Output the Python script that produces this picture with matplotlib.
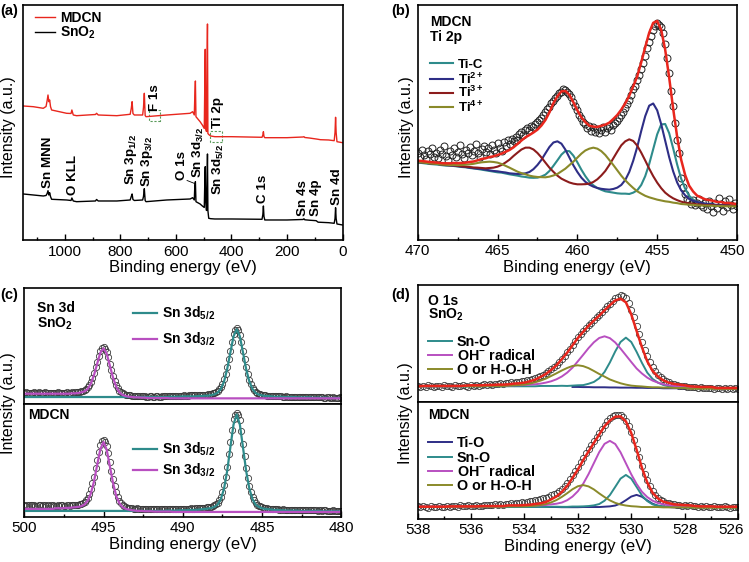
import numpy as np
import matplotlib
matplotlib.use('Agg')
import matplotlib.pyplot as plt
from matplotlib.ticker import MultipleLocator
from matplotlib.patches import Rectangle
from matplotlib.legend import Legend
from matplotlib.transforms import ScaledTranslation

plt.rcParams['font.family'] = ['Liberation Sans', 'DejaVu Sans']
plt.rcParams['mathtext.fontset'] = 'custom'
plt.rcParams['mathtext.rm'] = 'Liberation Sans'
plt.rcParams['mathtext.it'] = 'Liberation Sans:italic'
plt.rcParams['mathtext.bf'] = 'Liberation Sans:bold'
plt.rcParams['axes.linewidth'] = 1.2

RED = '#e8261d'
TEAL = '#2e8b8b'
NAVY = '#2e2e86'
DRED = '#8c1c1c'
OLIVE = '#8a8a2a'
MAG = '#b84fc0'

# ---------------- (a) survey spectra ----------------
e_survey = [1150, 1114, 1078, 1068, 1064, 1061, 1058, 1055, 1052, 1048,
            994, 978, 975, 970, 958, 890, 886, 880, 813, 765,
            761, 758, 755, 750, 720, 717, 714, 711, 708, 633,
            549, 540, 534, 532, 530, 528, 513, 505, 498, 496,
            494.5, 493, 490, 488, 486.5, 485, 482, 475, 460, 400,
            290, 287, 285, 283, 280, 200, 142, 139, 136, 120,
            95, 88, 80, 50, 30, 27, 25, 23, 20, 0]
i_sno2 = [46.5, 45.5, 44.5, 45, 47, 49.8, 45.5, 47.8, 44, 41.2,
          40.5, 40, 42.5, 39.5, 38.8, 39.5, 41, 39.5, 39.5, 40.5,
          44, 46.5, 41, 40, 40.5, 44, 51.8, 40, 38.8, 40.5,
          41.5, 42.8, 40.5, 55, 58.8, 38.8, 36.5, 34.5, 33, 60,
          73.8, 40, 30, 60, 86.5, 30, 22.2, 21.8, 21.5, 21.5,
          21.2, 26, 34.5, 24, 20.5, 20.5, 21, 21.7, 20.7, 20.3,
          19.8, 18.3, 18.2, 17.8, 17.2, 22, 32.8, 22, 16.5, 15.5]
i_mdcn = [134.5, 133.8, 132.2, 134, 140, 145.5, 138.8, 140.5, 134, 130.5,
          127.2, 127, 130.5, 125.5, 124.8, 126, 127.2, 125.5, 124.8, 126.2,
          132, 138.8, 127, 125.5, 125.5, 133, 147.2, 125, 123.8, 125.5,
          127.2, 128.8, 125.5, 145, 159.5, 123.8, 118.8, 115.5, 112, 160,
          191.2, 112, 109, 180, 216.5, 107, 106, 104.5, 103.8, 103.8,
          103.2, 105.5, 108.8, 104, 102.8, 102.8, 103.5, 103.8, 103, 102.5,
          101.5, 101.2, 100.8, 100.5, 99.8, 108, 123.2, 108, 98.8, 97.8]

# ---------------- (b) Ti 2p ----------------
e_ti = np.arange(450, 470.001, 0.25)
bg_ti = [100, 100, 100, 100, 100, 100, 100.5, 101, 101, 101.5,
         102, 102.5, 103, 104, 105, 106.5, 108, 109.5, 111, 112.5,
         114, 115.5, 117, 118.5, 120, 122, 124, 126, 128, 130,
         132, 134, 136, 138, 140.5, 143, 145, 147, 149.5, 152,
         154, 156, 158.5, 161, 163, 165, 167.5, 170, 172, 174.5,
         177, 179.5, 182, 185, 187.5, 190, 193, 195, 197.5, 200,
         202, 204, 206, 208, 210, 212, 213.5, 215, 217, 218,
         219.5, 221, 222, 223, 224.5, 226, 227, 228, 229.5, 231, 232]
ti_c = [2, 3, 3, 3, 4, 4, 5, 6, 7, 9,
        12, 19, 30, 50, 79, 120, 167, 211, 237, 234,
        203, 157, 111, 73, 45, 27, 18, 12, 11, 9,
        8, 8, 8, 8, 10, 13, 19, 28, 42, 59,
        79, 97, 108, 106, 93, 74, 55, 37, 24, 16,
        10, 7, 5, 4, 3, 3, 2, 2, 2, 2,
        1, 1, 1, 1, 1, 1, 1, 1, 1, 1,
        1, 1, 1, 0, 0, 0, 0, 0, 0, 0, 0]
ti_2 = [3, 3, 4, 4, 5, 5, 6, 7, 8, 10,
        12, 15, 20, 30, 44, 66, 98, 139, 187, 235,
        275, 294, 286, 253, 207, 157, 114, 78, 52, 35,
        25, 19, 15, 14, 13, 13, 15, 19, 25, 35,
        50, 68, 89, 110, 126, 131, 125, 109, 88, 66,
        48, 33, 22, 15, 11, 8, 6, 5, 5, 4,
        4, 3, 3, 3, 3, 2, 2, 2, 2, 2,
        2, 2, 2, 2, 2, 2, 2, 2, 2, 2, 2]
ti_3 = [2, 2, 3, 3, 3, 3, 4, 4, 4, 5,
        5, 6, 7, 8, 10, 13, 17, 23, 31, 43,
        58, 76, 97, 120, 142, 161, 173, 176, 168, 154,
        133, 111, 89, 69, 53, 39, 29, 22, 18, 15,
        13, 13, 14, 17, 21, 28, 37, 47, 60, 73,
        84, 92, 95, 92, 84, 72, 59, 46, 35, 25,
        18, 13, 10, 7, 6, 5, 4, 4, 3, 3,
        3, 3, 2, 2, 2, 2, 2, 2, 2, 2, 2]
ti_4 = [1, 1, 1, 1, 2, 2, 2, 2, 2, 2,
        2, 3, 3, 3, 3, 4, 4, 5, 5, 6,
        7, 9, 11, 14, 19, 24, 32, 41, 51, 63,
        77, 91, 104, 117, 126, 131, 132, 127, 119, 107,
        93, 79, 66, 53, 43, 33, 26, 20, 16, 14,
        12, 11, 11, 12, 13, 15, 18, 22, 25, 28,
        30, 30, 29, 26, 23, 19, 15, 12, 9, 7,
        5, 4, 3, 3, 2, 2, 2, 2, 2, 2, 2]
e_ti_pts = np.linspace(470, 450, 161)
ti_pts = [262, 248, 271, 255, 243, 266, 258, 276, 250, 262,
          245, 270, 259, 281, 252, 240, 268, 256, 275, 249,
          263, 284, 257, 246, 270, 261, 279, 254, 268, 287,
          260, 249, 272, 283, 264, 276, 258, 285, 271, 262,
          290, 276, 268, 295, 281, 299, 287, 303, 296, 310,
          301, 318, 323, 315, 329, 337, 331, 342, 338, 349,
          355, 361, 366, 374, 383, 392, 398, 410, 418, 426,
          432, 440, 445, 452, 449, 443, 437, 428, 415, 402,
          390, 376, 366, 355, 348, 336, 342, 328, 338, 325,
          333, 320, 330, 338, 324, 335, 341, 330, 345, 352,
          358, 366, 374, 385, 395, 407, 420, 436, 452, 462,
          480, 495, 512, 530, 552, 575, 595, 612, 630, 641,
          652, 645, 640, 622, 588, 545, 500, 448, 402, 350,
          300, 262, 185, 158, 138, 124, 116, 108, 120, 104,
          112, 124, 105, 98, 110, 92, 118, 102, 85, 112,
          96, 125, 107, 88, 116, 99, 122, 104, 93, 112, 101]

# ---------------- (c) Sn 3d ----------------
e_sn = np.linspace(500, 480, 101)
e_sn_pts = np.linspace(500, 480, 201)
sn_top_pts = [34, 35, 33, 34, 34, 33, 35, 34, 33, 35, 34, 33, 34, 35, 33, 34, 34, 32, 33, 34,
              34, 35, 33, 34, 34, 33, 33, 35, 34, 34, 35, 34, 35, 36, 36, 37, 38, 40, 42, 45,
              50, 57, 66, 78, 93, 110, 127, 145, 160, 168, 172, 166, 156, 140, 121, 103, 85, 70, 57, 47,
              40, 35, 32, 30, 28, 27, 26, 26, 25, 24, 24, 25, 24, 23, 23, 24, 23, 22, 22, 23,
              23, 22, 22, 23, 23, 22, 22, 23, 23, 24, 23, 23, 24, 24, 24, 23, 24, 25, 25, 24,
              25, 26, 25, 25, 26, 26, 26, 27, 26, 26, 27, 27, 27, 28, 28, 28, 29, 30, 31, 32,
              33, 35, 39, 44, 51, 61, 74, 91, 112, 135, 160, 186, 210, 222, 227, 221, 208, 186, 160, 134,
              110, 89, 72, 59, 49, 42, 36, 33, 31, 29, 28, 27, 26, 25, 25, 25, 24, 24, 24, 23,
              23, 24, 23, 22, 22, 23, 22, 22, 22, 21, 21, 22, 22, 21, 21, 22, 21, 21, 21, 20,
              20, 21, 21, 20, 20, 21, 20, 20, 20, 19, 19, 20, 20, 19, 19, 20, 19, 19, 19, 20, 19]
sn_top_52 = [21] * 46 + [22, 22, 22, 22, 23, 23, 23, 23, 23, 24,
                         24, 25, 25, 27, 29, 34, 45, 67, 105, 154,
                         203, 224, 203, 154, 104, 67, 45, 33, 28, 26,
                         24, 24, 23, 22, 22, 22, 21, 21, 21, 21] \
    + [20] * 5 + [19] * 5 + [18] * 5
sn_top_32 = [31] * 15 + [32, 32, 33, 35, 38, 45, 61, 87, 121, 154,
                         167, 151, 115, 79, 52, 35, 27, 24, 22, 21,
                         20, 20, 19, 19, 18, 18] + [18] * 5 + [17] * 55
sn_bot_pts = [36, 34, 35, 36, 36, 35, 35, 34, 34, 36, 35, 34, 35, 35, 34, 35, 34, 36, 35, 34,
              34, 35, 34, 36, 35, 34, 34, 35, 35, 34, 35, 36, 36, 36, 37, 38, 40, 42, 45, 50,
              57, 68, 82, 100, 120, 145, 170, 194, 214, 225, 230, 224, 212, 190, 164, 138, 114, 92, 74, 60,
              49, 42, 36, 33, 30, 28, 27, 27, 26, 25, 25, 26, 25, 24, 24, 25, 24, 23, 24, 24,
              24, 24, 23, 24, 24, 23, 23, 24, 23, 23, 23, 24, 24, 23, 23, 24, 24, 23, 24, 25,
              24, 25, 25, 24, 25, 26, 25, 25, 26, 26, 26, 27, 27, 27, 28, 29, 29, 30, 31, 33,
              35, 38, 43, 50, 60, 75, 94, 120, 150, 186, 222, 258, 290, 304, 310, 302, 288, 255, 218, 182,
              146, 117, 92, 74, 60, 50, 42, 37, 34, 32, 30, 28, 27, 26, 25, 25, 24, 23, 23, 24,
              23, 22, 22, 23, 22, 22, 22, 21, 21, 22, 21, 21, 21, 20, 21, 21, 20, 21, 21, 20,
              20, 21, 20, 20, 20, 19, 20, 20, 19, 20, 20, 19, 19, 19, 19, 20, 19, 19, 19, 18, 19]
sn_bot_52 = [18] * 45 + [19, 19, 19, 19, 20, 20, 20, 21, 21, 21,
                         22, 23, 24, 25, 27, 30, 37, 53, 84, 137,
                         207, 275, 305, 275, 206, 136, 84, 53, 36, 30,
                         26, 24, 23, 22, 21, 21, 20, 20, 19, 19,
                         19, 19] + [18] * 7 + [17] * 7
sn_bot_32 = [24] * 10 + [26, 26, 26, 27, 27, 28, 29, 30, 32, 37,
                         48, 70, 106, 155, 202, 223, 200, 151, 101, 63,
                         41, 29, 24, 22, 20, 19, 18, 18, 17, 17,
                         17] + [16] * 6 + [15] * 54

# ---------------- (d) O 1s ----------------
e_o = np.linspace(538, 526, 61)
e_o_pts = np.linspace(538, 526, 121)
o_top_bg = [47] * 27 + [46.5, 46, 46, 46, 45.5, 45.5, 45, 45, 45, 44.5,
                        44.5, 44, 44, 44, 43.5, 43.5, 43, 43, 43] \
    + [42] * 5 + [40] * 5 + [39] * 5
o_top_sno = [0] * 10 + [1] * 13 + [2, 2, 2, 2, 3, 3, 4, 5, 6, 10,
                                   16, 27, 46, 75, 108, 137, 150, 137, 108, 75,
                                   46, 27, 16, 10, 6, 5, 4, 3, 3, 2,
                                   2, 2, 2] + [1] * 5
o_top_oh = [1] * 9 + [2] * 6 + [3, 3, 3, 4, 4, 5, 6, 7, 9, 12,
                                16, 22, 31, 43, 58, 77, 97, 117, 135, 148,
                                153, 148, 135, 117, 97, 77, 58, 43, 31, 22,
                                16, 12, 9, 7, 6, 5, 4, 4, 3, 3,
                                3] + [2] * 5
o_top_hoh = [0] + [1] * 12 + [2] * 4 + [3, 4, 5, 6, 9, 13, 18, 24, 32, 40,
                                        49, 57, 63, 65, 63, 57, 49, 40, 32, 24,
                                        18, 13, 9, 6, 5, 4, 3, 2, 2, 2,
                                        2] + [1] * 13
o_top_pts = [49, 46, 50, 47, 51, 48, 45, 50, 49, 46,
             51, 48, 50, 47, 52, 49, 48, 51, 50, 47,
             52, 50, 53, 50, 52, 54, 51, 55, 53, 56,
             54, 57, 55, 58, 57, 60, 59, 62, 61, 64,
             63, 66, 68, 71, 72, 76, 79, 83, 88, 93,
             99, 106, 113, 121, 130, 139, 150, 160, 172, 183,
             195, 204, 213, 222, 231, 239, 247, 255, 263, 271,
             280, 288, 296, 304, 312, 317, 321, 320, 312, 298,
             278, 256, 230, 205, 180, 158, 138, 121, 106, 93,
             83, 75, 69, 64, 60, 56, 54, 51, 50, 48,
             48, 46, 47, 45, 46, 44, 45, 43, 44, 42,
             44, 41, 43, 42, 40, 43, 41, 42, 40, 42, 41]
o_bot_bg = [36] * 27 + [35.5] * 4 + [35] * 6 + [34.5] * 5 + [34] * 19
o_bot_tio = [0] * 31 + [1, 1, 1, 1, 2, 3, 6, 12, 22, 33,
                        38, 33, 22, 12, 6, 3, 2, 1, 1, 1,
                        1] + [0] * 9
o_bot_sno = [0] * 25 + [1] * 4 + [2, 2, 3, 4, 6, 10, 20, 37, 62, 87,
                                  98, 87, 62, 37, 20, 10, 6, 4, 3, 2,
                                  2] + [1] * 11
o_bot_oh = [1] * 12 + [2] * 5 + [3, 3, 3, 4, 4, 5, 5, 6, 8, 10,
                                 14, 21, 32, 48, 71, 100, 133, 166, 191, 200,
                                 191, 166, 133, 100, 71, 48, 32, 21, 14, 10,
                                 8, 6, 5, 5, 4, 4, 3, 3, 3] + [2] * 5
o_bot_hoh = [0] * 6 + [1] * 11 + [2] * 4 + [3, 4, 6, 9, 14, 21, 31, 42, 54, 63,
                                           67, 63, 54, 42, 31, 21, 14, 9, 6, 4,
                                           3, 2, 2, 2, 2] + [1] * 6 + [0] * 9
o_bot_pts = [38, 35, 39, 36, 34, 38, 37, 35, 40, 37,
             36, 39, 37, 40, 38, 36, 41, 39, 38, 41,
             40, 38, 42, 40, 39, 42, 41, 43, 41, 44,
             42, 45, 43, 46, 44, 47, 46, 48, 47, 50,
             49, 51, 53, 54, 56, 57, 59, 62, 64, 67,
             71, 75, 79, 84, 91, 99, 108, 119, 131, 144,
             157, 170, 184, 197, 210, 223, 236, 248, 260, 272,
             284, 294, 303, 309, 313, 314, 312, 306, 296, 280,
             262, 238, 212, 185, 160, 135, 116, 98, 84, 72,
             64, 57, 53, 49, 47, 44, 45, 42, 43, 40,
             42, 39, 41, 38, 40, 37, 39, 36, 38, 37,
             35, 38, 36, 37, 35, 38, 36, 34, 37, 35, 36]


def style_x(ax, major, minor, show=True):
    ax.set_yticks([])
    ax.xaxis.set_major_locator(MultipleLocator(major))
    ax.xaxis.set_minor_locator(MultipleLocator(minor))
    ax.tick_params(axis='x', which='major', direction='in', length=4,
                   width=1, labelsize=11, pad=3)
    ax.tick_params(axis='x', which='minor', direction='in', length=2.5, width=1)
    if not show:
        ax.tick_params(axis='x', which='both', labelbottom=False, length=0)


def leg_rows(ax, handles, x, ys, fs, hl):
    # one legend box per row so each row sits where the reference has it
    for h, y in zip(handles, ys):
        lg = Legend(ax, [h], [h.get_label()], loc='center left',
                    bbox_to_anchor=(x, y), frameon=False,
                    prop={'weight': 'bold', 'size': fs}, handlelength=hl,
                    handletextpad=0.35, borderpad=0, borderaxespad=0)
        ax.add_artist(lg)


fig = plt.figure(figsize=(7.49, 5.62), dpi=100)

# ---- (a)
ax = fig.add_axes([0.0311, 0.5721, 0.4262, 0.4190])
l1, = ax.plot(e_survey, i_mdcn, color=RED, lw=1.0, label='MDCN')
l2, = ax.plot(e_survey, i_sno2, color='k', lw=1.0, label=r'SnO$_{\mathbf{2}}$')
ax.set_xlim(1150, 0)
ax.set_ylim(0, 235.5)
style_x(ax, 200, 100)
ax.set_xlabel('Binding energy (eV)', fontsize=12, labelpad=1)
leg_rows(ax, [l1, l2], 0.0367, [0.944, 0.880], 10, 1.45)
peaks = [(1060, 52, 'Sn MNN'), (970, 45.5, 'O KLL'),
         (763, 55.5, r'Sn 3p$_{\mathbf{1/2}}$'), (705, 53.8, r'Sn 3p$_{\mathbf{3/2}}$'),
         (578, 60.5, 'O 1s'), (518, 62, r'Sn 3d$_{\mathbf{3/2}}$'),
         (447, 45.5, r'Sn 3d$_{\mathbf{5/2}}$'), (286, 37, 'C 1s'),
         (143, 24, 'Sn 4s'), (94, 24, 'Sn 4p'), (21, 35.5, 'Sn 4d'),
         (675, 129, 'F 1s'), (447, 112, 'Ti 2p')]
for x, y, s in peaks:
    ax.text(x, y, s, rotation=90, ha='center', va='bottom', fontsize=9.6,
            fontweight='bold')
ax.plot([560, 533], [60, 57], color='k', lw=0.6)
ax.add_patch(Rectangle((656, 119.8), 42, 10.7, fill=False, ls=(0, (2, 1.5)),
                       lw=0.8, ec='#5a9a5a'))
ax.add_patch(Rectangle((434, 98.8), 43, 10.7, fill=False, ls=(0, (2, 1.5)),
                       lw=0.8, ec='#5a9a5a'))

# ---- (b)
ax = fig.add_axes([0.5577, 0.5730, 0.4263, 0.4181])
ax_ti = ax
bg = np.array(bg_ti)
ax.plot(e_ti_pts, ti_pts, 'o', ms=5, mfc='none', mec='#222222', mew=0.7)
comps = [(ti_c, TEAL, 'Ti-C'), (ti_2, NAVY, r'Ti$^{\mathbf{2+}}$'),
         (ti_3, DRED, r'Ti$^{\mathbf{3+}}$'), (ti_4, OLIVE, r'Ti$^{\mathbf{4+}}$')]
handles = []
for vals, col, lab in comps:
    h, = ax.plot(e_ti, bg + np.array(vals), color=col, lw=1.5, label=lab)
    handles.append(h)
env = bg + np.array(ti_c) + np.array(ti_2) + np.array(ti_3) + np.array(ti_4)
ax.plot(e_ti, env, color=RED, lw=1.8)
ax.set_xlim(470, 450)
ax.set_ylim(0, 705)
style_x(ax, 5, 2.5)
ax.set_xlabel('Binding energy (eV)', fontsize=12, labelpad=1)
ax.text(0.0385, 0.929, 'MDCN', transform=ax.transAxes, fontsize=10,
        fontweight='bold', va='center')
ax.text(0.0385, 0.865, 'Ti 2p', transform=ax.transAxes, fontsize=10,
        fontweight='bold', va='center')
leg_rows(ax, handles, 0.0385, [0.745, 0.685, 0.626, 0.566], 9.5, 1.75)

# ---- (c)
ax_t = fig.add_axes([0.0324, 0.2811, 0.4233, 0.2059])
ax_b = fig.add_axes([0.0324, 0.0801, 0.4233, 0.2010])
for a, pts, l52, l32, ys in [(ax_t, sn_top_pts, sn_top_52, sn_top_32, [0.784, 0.559]),
                             (ax_b, sn_bot_pts, sn_bot_52, sn_bot_32, [0.599, 0.410])]:
    a.plot(e_sn_pts, pts, 'o', ms=4.5, mfc='none', mec='#3a3a3a', mew=0.6)
    h1, = a.plot(e_sn, l52, color=TEAL, lw=1.6, label=r'Sn 3d$_{\mathbf{5/2}}$')
    h2, = a.plot(e_sn, l32, color=MAG, lw=1.6, label=r'Sn 3d$_{\mathbf{3/2}}$')
    a.set_xlim(500, 480)
    leg_rows(a, [h1, h2], 0.343, ys, 10, 1.73)
ax_t.set_ylim(0, 347)
ax_b.set_ylim(0, 336)
style_x(ax_t, 5, 2.5, show=False)
style_x(ax_b, 5, 2.5)
ax_b.set_xlabel('Binding energy (eV)', fontsize=12, labelpad=1)
ax_t.text(0.039, 0.827, 'Sn 3d', transform=ax_t.transAxes, fontsize=10,
          fontweight='bold', va='center')
ax_t.text(0.039, 0.697, r'SnO$_{\mathbf{2}}$', transform=ax_t.transAxes,
          fontsize=10, fontweight='bold', va='center')
ax_b.text(0.013, 0.903, 'MDCN', transform=ax_b.transAxes, fontsize=10,
          fontweight='bold', va='center')

# ---- (d)
ax_t = fig.add_axes([0.5577, 0.2842, 0.4276, 0.2087])
ax_b = fig.add_axes([0.5577, 0.0765, 0.4276, 0.2077])
ax_o = ax_b
bg = np.array(o_top_bg)
ax_t.plot(e_o_pts, o_top_pts, 'o', ms=4.5, mfc='none', mec='#3a3a3a', mew=0.6)
ax_t.plot(e_o[29:51], bg[29:51], color=NAVY, lw=1.4)
h1, = ax_t.plot(e_o, bg + np.array(o_top_sno), color=TEAL, lw=1.4, label='Sn-O')
h2, = ax_t.plot(e_o, bg + np.array(o_top_oh), color=MAG, lw=1.4,
                label=r'OH$^{\mathbf{-}}$ radical')
h3, = ax_t.plot(e_o, bg + np.array(o_top_hoh), color=OLIVE, lw=1.4,
                label='O or H-O-H')
ax_t.plot(e_o, bg + np.array(o_top_sno) + np.array(o_top_oh) + np.array(o_top_hoh),
          color=RED, lw=1.8)
leg_rows(ax_t, [h1, h2, h3], 0.033, [0.514, 0.395, 0.275], 10.3, 1.63)

bg = np.array(o_bot_bg)
ax_b.plot(e_o_pts, o_bot_pts, 'o', ms=4.5, mfc='none', mec='#3a3a3a', mew=0.6)
h0, = ax_b.plot(e_o[23:51], bg[23:51] + np.array(o_bot_tio)[23:51], color=NAVY,
                lw=1.4, label='Ti-O')
h1, = ax_b.plot(e_o, bg + np.array(o_bot_sno), color=TEAL, lw=1.4, label='Sn-O')
h2, = ax_b.plot(e_o, bg + np.array(o_bot_oh), color=MAG, lw=1.4,
                label=r'OH$^{\mathbf{-}}$ radical')
h3, = ax_b.plot(e_o, bg + np.array(o_bot_hoh), color=OLIVE, lw=1.4,
                label='O or H-O-H')
ax_b.plot(e_o, bg + np.array(o_bot_tio) + np.array(o_bot_sno) + np.array(o_bot_oh)
          + np.array(o_bot_hoh), color=RED, lw=1.8)
leg_rows(ax_b, [h0, h1, h2, h3], 0.033, [0.650, 0.526, 0.407, 0.284], 10.3, 1.63)
for a in (ax_t, ax_b):
    a.set_xlim(538, 526)
ax_t.set_ylim(0, 352)
ax_b.set_ylim(0, 351)
style_x(ax_t, 2, 1, show=False)
style_x(ax_b, 2, 1)
ax_b.set_xlabel('Binding energy (eV)', fontsize=12, labelpad=1)
ax_t.text(0.033, 0.866, 'O 1s', transform=ax_t.transAxes, fontsize=10,
          fontweight='bold', va='center')
ax_t.text(0.033, 0.744, r'SnO$_{\mathbf{2}}$', transform=ax_t.transAxes,
          fontsize=10, fontweight='bold', va='center')
ax_b.text(0.033, 0.891, 'MDCN', transform=ax_b.transAxes, fontsize=10,
          fontweight='bold', va='center')

# ---- panel letters and y labels
for x, y, s in [(0.0, 0.980, '(a)'), (0.522, 0.980, '(b)'),
                (0.0, 0.475, '(c)'), (0.522, 0.475, '(d)')]:
    fig.text(x, y, s, fontsize=10.5, fontweight='bold', va='center')
for x, y in [(0.011, 0.774), (0.543, 0.774), (0.011, 0.283), (0.541, 0.265)]:
    fig.text(x, y, 'Intensity (a.u.)', rotation=90, fontsize=11.5,
             ha='center', va='center')

# the last tick labels at the right figure edge sit a little inward, as in the reference
fig.canvas.draw()
for a, txt, dx in [(ax_o, '526', -5), (ax_ti, '450', -3)]:
    for t in a.xaxis.get_major_ticks():
        if t.label1.get_text() == txt:
            t.label1.set_transform(t.label1.get_transform()
                                   + ScaledTranslation(dx / 72, 0, fig.dpi_scale_trans))

fig.savefig('out.png', dpi=100)
